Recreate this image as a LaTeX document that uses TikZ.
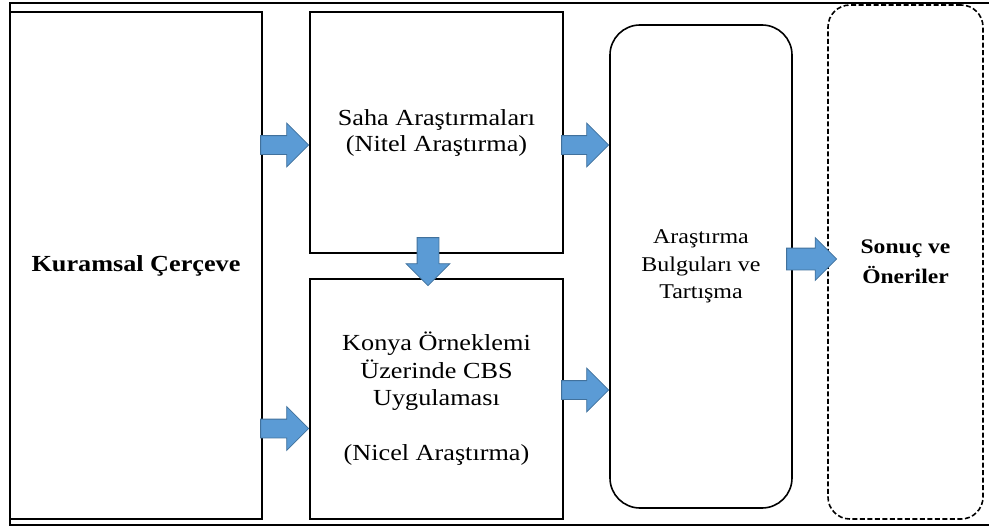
\documentclass[tikz,border=0pt]{standalone}
\usepackage{fontspec}
\setmainfont{Liberation Serif}[FakeStretch=1.14]
\usetikzlibrary{shapes.arrows,calc}

\definecolor{arrowblue}{HTML}{5B9BD5}
\definecolor{arrowline}{HTML}{41719C}

\tikzset{
  plainbox/.style={draw, line width=1.6pt, inner sep=0pt, align=center,
    font=\fontsize{23}{26}\selectfont},
  fatarrow/.style={single arrow, draw=arrowline, fill=arrowblue, line width=0.8pt,
    text height=18pt, text depth=0pt, minimum width=43pt, anchor=tip,
    single arrow head extend=12.5pt, single arrow head indent=0pt, inner sep=0pt}
}

\begin{document}
\begin{tikzpicture}[x=1pt,y=-1pt]
  \useasboundingbox (0,0) rectangle (989,527);

  % frame
  \draw[line width=1.6pt] (989,3) -- (10,3) -- (10,525) -- (989,525);

  \node[plainbox, minimum width=252, minimum height=507, font=\bfseries\fontsize{23}{26}\selectfont] (kuram) at (136,265.5) {Kuramsal Çerçeve};
  \node[plainbox, minimum width=253, minimum height=241] (saha) at (436.5,132.5) {Saha Araştırmaları\\(Nitel Araştırma)};
  \node[plainbox, minimum width=253, minimum height=240, font=\fontsize{23}{27.5}\selectfont] (konya) at (436.5,399) {Konya Örneklemi\\Üzerinde CBS\\Uygulaması\\[27.5pt](Nicel Araştırma)};
  \node[plainbox, rounded corners=30, minimum width=182, minimum height=483, font=\fontsize{21}{27.5}\selectfont] (bulgu) at (701,266.5) {Araştırma\\Bulguları ve\\Tartışma};
  \node[plainbox, dash pattern=on 5pt off 2.5pt, rounded corners=22, minimum width=155, minimum height=514, font=\bfseries\fontsize{20.7}{30}\selectfont] (sonuc) at (905.5,262) {Sonuç ve\\Öneriler};

  % block arrows
  \node[fatarrow, minimum height=48] (a1) at (saha.west |- 0,145) {};
  \node[fatarrow, minimum height=48] (a2) at (konya.west |- 0,428.5) {};
  \node[fatarrow, minimum height=47] (a3) at (bulgu.west |- 0,145) {};
  \node[fatarrow, minimum height=47] (a4) at (bulgu.west |- 0,390) {};
  \node[fatarrow, minimum height=50, minimum width=42, text height=21pt, single arrow head extend=10.5pt] (a5) at ($(sonuc.west |- 0,259)+(10,0)$) {};
  \node[fatarrow, minimum height=48, text height=21pt, single arrow head extend=11pt, rotate=-90] (a6) at ($(konya.north -| 428,0)+(0,8)$) {};
\end{tikzpicture}
\end{document}
